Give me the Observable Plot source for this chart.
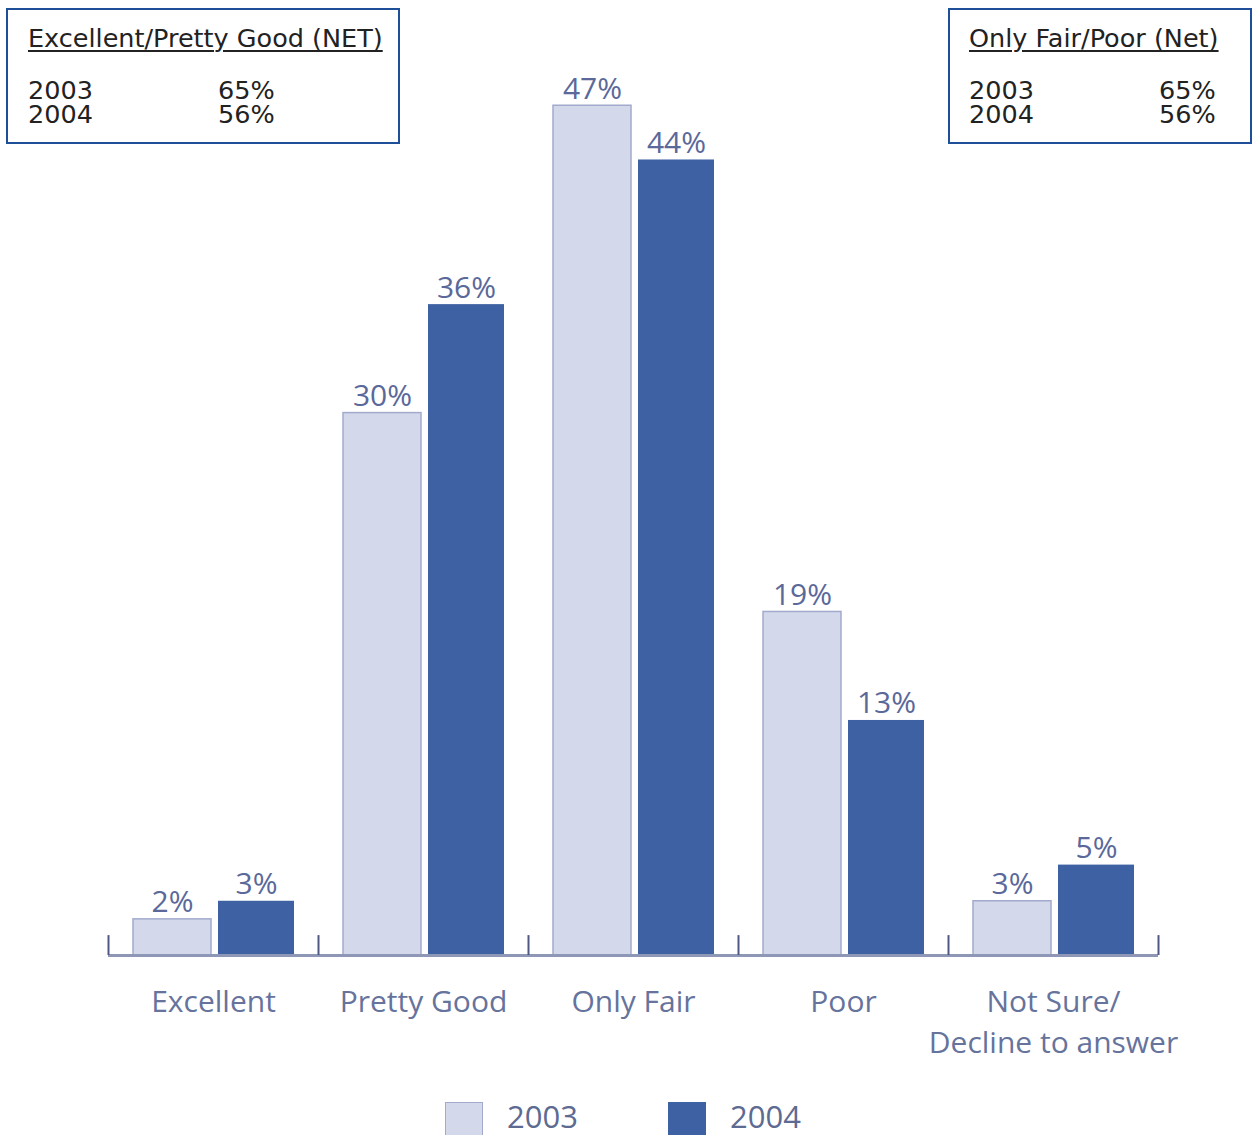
<!DOCTYPE html>
<html><head><meta charset="utf-8">
<script src="https://cdn.jsdelivr.net/npm/d3@7"></script>
<script src="https://cdn.jsdelivr.net/npm/@observablehq/plot@0.6"></script>
<style>
html,body{margin:0;padding:0;background:#fff}
body{width:1254px;height:1135px;position:relative;overflow:hidden;font-family:"Open Sans",sans-serif}
#chart{position:absolute;left:0;top:0}
.box{position:absolute;border:2.5px solid #1f4f98;box-sizing:border-box}
.bt{position:absolute;font-family:"DejaVu Sans",sans-serif;font-size:25.5px;line-height:24px;color:#222;white-space:pre}
.u{text-decoration:underline;text-underline-offset:3px;text-decoration-thickness:1.5px}
.sw{position:absolute;top:1102px;width:38px;height:40px;box-sizing:border-box}
.lt{position:absolute;top:1099px;font-size:31px;line-height:35px;color:#5d6a92}
</style>
</head><body>
<div id="chart"></div>
<div id="boxes"></div>
<div id="legend"></div>
<script>
const categories = ["Excellent","Pretty Good","Only Fair","Poor","Not Sure/\nDecline to answer"];
const years = ["2003","2004"];
const values2003 = [2,30,47,19,3];
const values2004 = [3,36,44,13,5];
const netTitles = ["Excellent/Pretty Good (NET)","Only Fair/Poor (Net)"];
const net2003 = [65,65];
const net2004 = [56,56];
const colors = {"2003":"#d3d8ea","2004":"#3d61a3"};

const rows2003 = categories.map((c,i)=>({category:c, year:years[0], value:values2003[i]}));
const rows2004 = categories.map((c,i)=>({category:c, year:years[1], value:values2004[i]}));

const labelColor = "#5a689a";
const plot = Plot.plot({
  width:1254, height:1080,
  marginLeft:108, marginRight:96, marginTop:51, marginBottom:125,
  style:{fontFamily:"'Open Sans', sans-serif", background:"transparent"},
  x:{domain:categories, padding:0},
  y:{domain:[0,50], axis:null},
  marks:[
    Plot.barY(rows2003, {x:"category", y:"value", fill:colors["2003"], stroke:"#a2abcd", strokeWidth:1.5, insetLeft:25, insetRight:107}),
    Plot.barY(rows2004, {x:"category", y:"value", fill:colors["2004"], insetLeft:110, insetRight:24}),
    Plot.text(rows2003, {x:"category", y:"value", text:d=>d.value+"%", dx:-41, dy:-7, lineAnchor:"bottom", fontSize:30, fill:labelColor}),
    Plot.text(rows2004, {x:"category", y:"value", text:d=>d.value+"%", dx:43, dy:-7, lineAnchor:"bottom", fontSize:30, fill:labelColor}),
    Plot.ruleY([0], {stroke:"#8f97b7", strokeWidth:3}),
    Plot.ruleX(categories, {x:d=>d, dx:-105, y1:0, y2:1.1, stroke:"#4f5884", strokeWidth:2}),
    Plot.ruleX(categories.slice(-1), {x:d=>d, dx:105, y1:0, y2:1.1, stroke:"#4f5884", strokeWidth:2}),
    Plot.axisX({tickSize:0, tickPadding:27, fontSize:30, lineHeight:1.37, fill:"#66739c", label:null, style:{letterSpacing:"1.5px"}})
  ]
});
document.getElementById("chart").appendChild(plot);

// NET boxes
const boxes = document.getElementById("boxes");
const boxSpecs = [
  {left:6, width:394, textX:28, valX:218},
  {left:948, width:304, textX:969, valX:1159}
];
boxSpecs.forEach((b,i)=>{
  const box = document.createElement("div");
  box.className="box";
  box.style.cssText=`left:${b.left}px;top:8px;width:${b.width}px;height:136px`;
  boxes.appendChild(box);
  const items = [
    {x:b.textX, y:26, t:netTitles[i], u:true},
    {x:b.textX, y:78, t:years[0]+"\n"+years[1]},
    {x:b.valX, y:78, t:net2003[i]+"%\n"+net2004[i]+"%"}
  ];
  items.forEach(it=>{
    const d=document.createElement("div");
    d.className="bt"+(it.u?" u":"");
    d.style.left=it.x+"px"; d.style.top=it.y+"px";
    d.textContent=it.t;
    boxes.appendChild(d);
  });
});

// legend
const legend = document.getElementById("legend");
const legendX = [{sw:445, tx:507},{sw:668, tx:730}];
years.forEach((y,i)=>{
  const s=document.createElement("div");
  s.className="sw";
  s.style.left=legendX[i].sw+"px";
  s.style.background=colors[y];
  if(i===0) s.style.border="1.5px solid #a2abcd";
  legend.appendChild(s);
  const t=document.createElement("div");
  t.className="lt";
  t.style.left=legendX[i].tx+"px";
  t.textContent=y;
  legend.appendChild(t);
});
</script>
</body></html>
